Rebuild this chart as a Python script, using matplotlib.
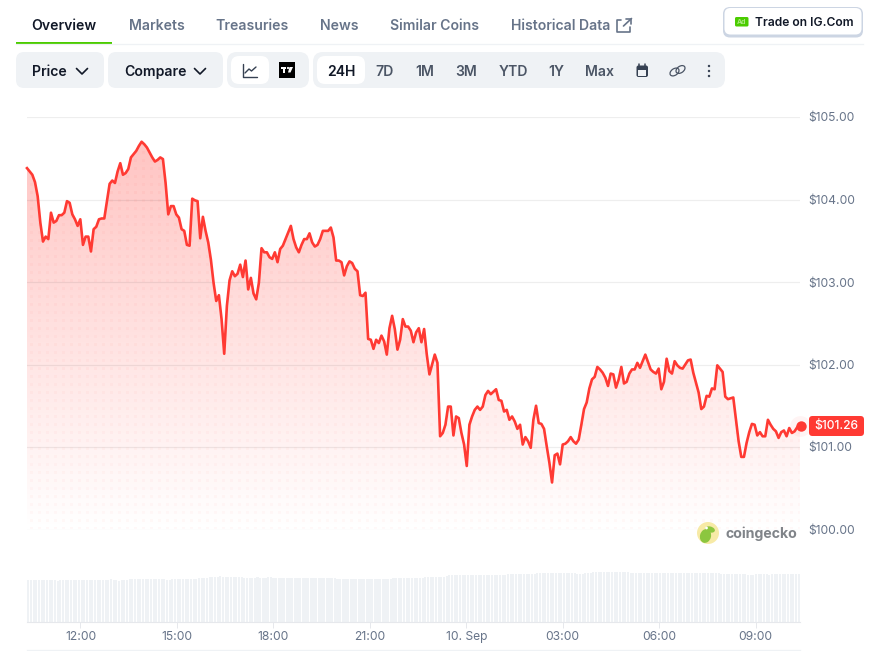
import numpy as np
import matplotlib
matplotlib.use("Agg")
import matplotlib.pyplot as plt
from matplotlib.patches import FancyBboxPatch, Circle, Ellipse, Rectangle, Polygon

plt.rcParams['font.family'] = ['Inter', 'DejaVu Sans']

# price every 5 minutes
prices = [
    104.38, 104.34, 104.30, 104.21, 104.04, 103.72, 103.49, 103.55, 103.52, 103.84,
    103.72, 103.74, 103.81, 103.81, 103.84, 103.98, 103.96, 103.82, 103.76, 103.68,
    103.76, 103.45, 103.55, 103.55, 103.37, 103.64, 103.67, 103.76, 103.77, 103.77,
    103.98, 104.19, 104.23, 104.20, 104.34, 104.44, 104.30, 104.32, 104.37, 104.51,
    104.55, 104.59, 104.65, 104.70, 104.67, 104.63, 104.57, 104.51, 104.46, 104.48,
    104.51, 104.49, 104.20, 103.82, 103.92, 103.92, 103.82, 103.78, 103.64, 103.62,
    103.45, 103.44, 104.01, 103.99, 103.98, 103.53, 103.79, 103.62, 103.48, 103.27,
    102.99, 102.77, 102.84, 102.55, 102.13, 102.71, 103.02, 103.13, 103.07, 103.10,
    103.21, 103.06, 103.26, 102.91, 103.05, 102.86, 102.79, 102.99, 103.41, 103.36,
    103.36, 103.30, 103.28, 103.36, 103.24, 103.40, 103.44, 103.52, 103.60, 103.68,
    103.52, 103.42, 103.36, 103.45, 103.52, 103.52, 103.59, 103.48, 103.43, 103.45,
    103.52, 103.62, 103.62, 103.62, 103.66, 103.54, 103.26, 103.26, 103.24, 103.08,
    103.19, 103.25, 103.23, 103.16, 103.13, 102.84, 102.83, 102.87, 102.31, 102.30,
    102.19, 102.30, 102.26, 102.35, 102.28, 102.12, 102.44, 102.59, 102.43, 102.18,
    102.30, 102.55, 102.46, 102.46, 102.41, 102.27, 102.39, 102.44, 102.27, 102.43,
    102.12, 101.88, 102.00, 102.12, 102.02, 101.13, 101.17, 101.27, 101.49, 101.49,
    101.14, 101.37, 101.35, 101.17, 101.03, 100.77, 101.27, 101.37, 101.45, 101.49,
    101.45, 101.49, 101.63, 101.68, 101.64, 101.67, 101.70, 101.57, 101.56, 101.43,
    101.45, 101.33, 101.37, 101.31, 101.22, 101.27, 101.03, 101.12, 101.07, 100.99,
    101.33, 101.50, 101.29, 101.28, 101.22, 101.01, 100.81, 100.57, 100.90, 100.92,
    100.79, 101.03, 101.04, 101.07, 101.12, 101.07, 101.04, 101.09, 101.27, 101.46,
    101.54, 101.71, 101.82, 101.85, 101.97, 101.94, 101.90, 101.84, 101.74, 101.89,
    101.88, 101.72, 101.82, 101.97, 101.77, 101.79, 101.89, 101.94, 101.94, 102.02,
    101.96, 102.04, 102.12, 102.03, 101.94, 101.91, 101.89, 101.95, 101.70, 101.79,
    102.07, 101.92, 101.89, 102.04, 101.99, 101.96, 101.95, 102.00, 102.05, 102.06,
    101.90, 101.78, 101.66, 101.46, 101.49, 101.62, 101.61, 101.71, 101.70, 101.99,
    101.95, 101.91, 101.61, 101.58, 101.59, 101.60, 101.33, 101.07, 100.88, 100.88,
    101.05, 101.18, 101.28, 101.27, 101.14, 101.18, 101.13, 101.13, 101.33, 101.27,
    101.22, 101.19, 101.11, 101.18, 101.20, 101.13, 101.23, 101.17, 101.19, 101.24,
    101.26,
]

# volume bars (no scale shown in the chart, arbitrary units)
volume = [
    41.5, 41.5, 41.5, 41.5, 41.5, 41.5, 41.5, 41.5, 41.5, 41.5,
    41.5, 41.0, 41.5, 41.5, 41.7, 41.7, 41.7, 41.7, 41.7, 41.7,
    41.7, 41.7, 41.7, 41.7, 41.7, 41.7, 41.7, 41.7, 41.7, 42.0,
    42.0, 42.3, 42.0, 41.5, 41.0, 41.3, 41.5, 42.0, 42.3, 42.5,
    42.5, 42.5, 42.5, 42.5, 42.5, 42.5, 42.5, 42.3, 42.3, 42.5,
    42.5, 42.3, 41.8, 42.0, 42.3, 42.5, 42.5, 42.5, 42.5, 42.5,
    42.5, 42.8, 43.0, 43.0, 43.3, 43.5, 44.0, 44.0, 44.3, 44.5,
    44.7, 45.0, 45.3, 45.0, 45.0, 44.8, 45.0, 44.8, 44.5, 44.5,
    44.2, 44.0, 44.0, 44.0, 44.0, 44.0, 44.2, 44.0, 44.0, 44.0,
    44.2, 44.2, 44.0, 44.0, 44.0, 43.7, 43.7, 43.5, 43.7, 43.7,
    43.7, 43.7, 43.5, 43.5, 43.5, 43.5, 43.5, 43.5, 43.5, 43.5,
    43.5, 43.5, 43.5, 43.5, 43.5, 43.3, 43.0, 43.0, 43.0, 42.7,
    42.5, 42.5, 42.5, 42.5, 42.5, 42.5, 42.5, 42.5, 42.5, 42.5,
    42.5, 42.5, 42.5, 42.5, 42.7, 43.0, 43.0, 43.3, 43.3, 43.3,
    43.5, 43.5, 43.5, 43.5, 44.0, 44.0, 44.0, 44.0, 44.0, 44.2,
    44.2, 44.2, 44.5, 44.5, 44.8, 45.0, 45.0, 46.0, 46.5, 46.5,
    46.5, 46.3, 46.5, 46.5, 46.5, 46.5, 46.5, 46.5, 46.5, 46.5,
    46.5, 46.5, 46.7, 46.7, 46.5, 46.5, 46.5, 46.5, 46.5, 47.0,
    47.3, 47.3, 47.5, 47.5, 47.5, 47.5, 47.5, 47.7, 47.7, 47.7,
    48.0, 48.3, 48.5, 48.5, 48.5, 48.7, 48.7, 49.0, 49.0, 49.0,
    48.5, 48.3, 48.3, 48.3, 48.3, 48.3, 48.0, 48.0, 48.0, 48.3,
    48.5, 48.8, 49.3, 49.3, 49.5, 49.5, 49.5, 49.5, 49.5, 49.5,
    49.5, 49.5, 49.5, 49.5, 49.5, 49.3, 49.0, 49.0, 49.0, 49.0,
    48.5, 48.3, 48.3, 48.3, 48.3, 48.3, 48.3, 48.3, 48.3, 48.3,
    48.3, 48.3, 48.3, 48.3, 48.3, 48.3, 48.3, 48.3, 48.3, 48.3,
    48.2, 48.2, 48.2, 48.2, 48.2, 48.2, 48.2, 48.2, 48.2, 48.2,
    48.0, 48.0, 48.0, 48.0, 48.0, 48.0, 47.8, 47.8, 47.5, 47.5,
    47.0, 47.0, 46.8, 47.3, 47.5, 48.0, 48.0, 48.0, 46.8, 48.0,
    48.0, 48.0, 48.0, 48.0, 48.0, 48.0, 48.0, 48.0, 48.0, 48.0,
    48.0,
]

hour_ticks = [12, 15, 18, 21, 24, 27, 30, 33]
hour_labels = ['12:00', '15:00', '18:00', '21:00', '10. Sep', '03:00', '06:00', '09:00']
price_ticks = [100, 101, 102, 103, 104, 105]
tabs = [('Markets', 129), ('Treasuries', 216), ('News', 320), ('Similar Coins', 390), ('Historical Data', 511)]
ranges = [('7D', 385), ('1M', 425), ('3M', 466), ('YTD', 513), ('1Y', 556), ('Max', 600)]

RED = '#ff3a33'
GREY = '#677489'
DARK = '#111827'
PILL = '#eff2f5'
W, H = 879, 651

t_start = 10.336
t_step = 0.0829
times = t_start + np.arange(len(prices)) * t_step
xlim = (t_start, 34.38)


def px_axes(x0, y0, x1, y1):
    # axes from pixel box, y measured from the top of the picture
    return fig.add_axes([x0 / W, 1 - y1 / H, (x1 - x0) / W, (y1 - y0) / H])


fig = plt.figure(figsize=(W / 100, H / 100), dpi=100, facecolor='white')

# price chart
ax = px_axes(27, 117, 800, 529.5)
ax.set_facecolor('none')
area = ax.fill_between(times, prices, 100, color='none')

# gradient with the dotted texture on top
rows, cols = 413, 773
yy, xx = np.mgrid[0:rows, 0:cols]
alpha = 0.32 * (rows - yy) / rows
dots = (np.hypot((xx % 8) - 4, (yy % 8) - 4) < 1.8)
alpha = alpha + dots * 0.03
rgba = np.zeros((rows, cols, 4))
rgba[..., 0] = 1.0
rgba[..., 1] = 0x3a / 255
rgba[..., 2] = 0x33 / 255
rgba[..., 3] = alpha
im = ax.imshow(rgba, extent=[xlim[0], xlim[1], 100, 105], aspect='auto', zorder=1, interpolation='nearest')
im.set_clip_path(area.get_paths()[0], transform=ax.transData)

ax.plot(times, prices, color=RED, lw=1.9, zorder=3, clip_on=False, solid_joinstyle='round')
ax.plot(times[-1], prices[-1], 'o', ms=15, color=RED, alpha=0.05, mew=0, zorder=3, clip_on=False)
ax.plot(times[-1] + 0.03, prices[-1], 'o', ms=7.5, color=RED, mew=0, zorder=4, clip_on=False)

ax.set_xlim(xlim)
ax.set_ylim(100, 105)
ax.set_yticks(price_ticks)
ax.set_yticklabels([f'${p:.2f}' for p in price_ticks], va='center_baseline')
ax.yaxis.tick_right()
ax.tick_params(axis='y', length=0, pad=6, labelsize=8.7, labelcolor=GREY)
ax.set_xticks([])
ax.grid(axis='y', color='black', alpha=0.065, lw=0.9, zorder=2)
ax.set_axisbelow(False)
for s in ax.spines.values():
    s.set_visible(False)

# volume
vol = px_axes(27, 570, 800, 621.5)
vol.bar(times[:len(volume)] + t_step / 2, volume, width=t_step * 0.78, color=PILL, linewidth=0)
vol.set_xlim(xlim)
vol.set_ylim(0, 51.5)
vol.set_yticks([])
vol.set_xticks(hour_ticks)
vol.set_xticklabels(hour_labels)
vol.tick_params(axis='x', length=4.5, width=0.7, color='#e6e8ec', pad=2.5, labelsize=8.7, labelcolor=GREY)
for s in ['top', 'left', 'right']:
    vol.spines[s].set_visible(False)
vol.spines['bottom'].set_color('#e6e8ec')
vol.spines['bottom'].set_linewidth(0.8)

# page furniture, drawn in picture pixels
ui = fig.add_axes([0, 0, 1, 1], zorder=5)
ui.set_xlim(0, W)
ui.set_ylim(H, 0)
ui.axis('off')


def pill(x0, y0, x1, y1, color, r=8, **kw):
    ui.add_patch(FancyBboxPatch((x0 + r, y0 + r), x1 - x0 - 2 * r, y1 - y0 - 2 * r,
                                boxstyle=f'round,pad={r},rounding_size={r}', fc=color, ec=kw.pop('ec', 'none'), **kw))


def label(x, y, s, color=GREY, size=10.1, weight=600, ha='left'):
    ui.text(x, y, s, color=color, fontsize=size, fontweight=weight, ha=ha, va='center')


def stroke(xs, ys, color=DARK, lw=1.2):
    ui.plot(xs, ys, color=color, lw=lw, solid_capstyle='round', solid_joinstyle='round')


# tabs
ui.plot([16, 863], [43.5, 43.5], color=PILL, lw=0.9)
ui.add_patch(Rectangle((16, 42), 96, 2, fc='#4bcc00', ec='none'))
label(31.5, 26, 'Overview', DARK)
for name, x in tabs:
    label(x - 0.3, 26, name)
stroke([621, 617.5, 617.5, 630, 630], [20, 20, 32, 32, 27], GREY)
stroke([623.5, 631.5], [26, 18.5], GREY)
stroke([626, 631.5, 631.5], [18.5, 18.5, 23.5], GREY)

# ad button
pill(723, 7, 863, 37.5, '#ccd5e3', r=7)
pill(724.5, 8, 861.5, 34.5, 'white', r=6)
pill(735, 17, 748.5, 26.5, '#4bcc00', r=1.5)
ui.text(741.7, 21.8, 'Ad', color='#a8e880', fontsize=5, fontweight=700, ha='center', va='center')
label(755, 22.5, 'Trade on IG.Com', DARK, size=8.7)

# control row
ui.plot([27, 800], [650, 650], color=PILL, lw=0.9)
pill(16, 52, 104, 88, PILL)
label(32, 72, 'Price', DARK)
stroke([76.5, 82, 87.5], [68.5, 74, 68.5])
pill(108, 52, 223, 88, PILL)
label(124, 72, 'Compare', DARK)
stroke([194.5, 200, 205.5], [68.5, 74, 68.5])

pill(227, 52, 309, 88, PILL, r=10)
pill(231, 56, 269, 84, 'white')
stroke([243, 243, 257], [64, 76.5, 76.5], '#364152', 1.0)
stroke([245, 249, 251.5, 256], [73, 69, 71, 67], '#364152', 1.0)
ui.add_patch(Rectangle((279, 62), 16, 16, fc='black', ec='none'))
ui.add_patch(Rectangle((281.5, 67), 5, 2, fc='white', ec='none'))
ui.add_patch(Rectangle((283.5, 67), 2, 5.5, fc='white', ec='none'))
ui.add_patch(Circle((288, 68), 1.1, fc='white', ec='none'))
ui.add_patch(Polygon([(289.5, 67), (293, 67), (290.5, 72.5), (288, 72.5)], fc='white', ec='none'))

pill(313, 52, 725, 88, PILL, r=10)
pill(317, 56, 365, 84, 'white')
label(341, 72, '24H', DARK, ha='center')
for name, x in ranges:
    label(x, 72, name, '#4b5565', ha='center')

# calendar, link and menu icons
pill(636.5, 65.5, 648, 77, '#364152', r=2)
ui.add_patch(Rectangle((638, 70), 8.5, 5.5, fc=PILL, ec='none'))
stroke([639.5, 639.5], [64, 66], '#364152', 1.1)
stroke([645, 645], [64, 66], '#364152', 1.1)
ui.add_patch(Ellipse((674.5, 72), 10, 6.5, angle=-35, fc='none', ec='#4b5565', lw=0.9))
ui.add_patch(Ellipse((680.5, 69.5), 10, 6.5, angle=-35, fc='none', ec='#4b5565', lw=0.9))
for y in [66, 71, 76]:
    ui.add_patch(Circle((709, y), 1.2, fc='#364152', ec='none'))

# current price badge
pill(809, 416, 864, 436, RED, r=3.5)
ui.text(836.5, 426.5, f'${prices[-1]:.2f}', color='white', fontsize=8.7, fontweight=500, ha='center', va='center')

# coingecko mark
ui.add_patch(Circle((708, 533), 11, fc='#f7eaa6', ec='none'))
ui.add_patch(Ellipse((705.5, 536), 11, 14, angle=15, fc='#8cc63f', ec='none'))
ui.add_patch(Ellipse((710, 529.5), 10, 6, angle=15, fc='#8cc63f', ec='none'))
ui.add_patch(Circle((706.5, 528), 1.4, fc='white', ec='none'))
label(726, 533.5, 'coingecko', '#808489', size=10.2, weight=700)

fig.savefig('out.png', dpi=100)
